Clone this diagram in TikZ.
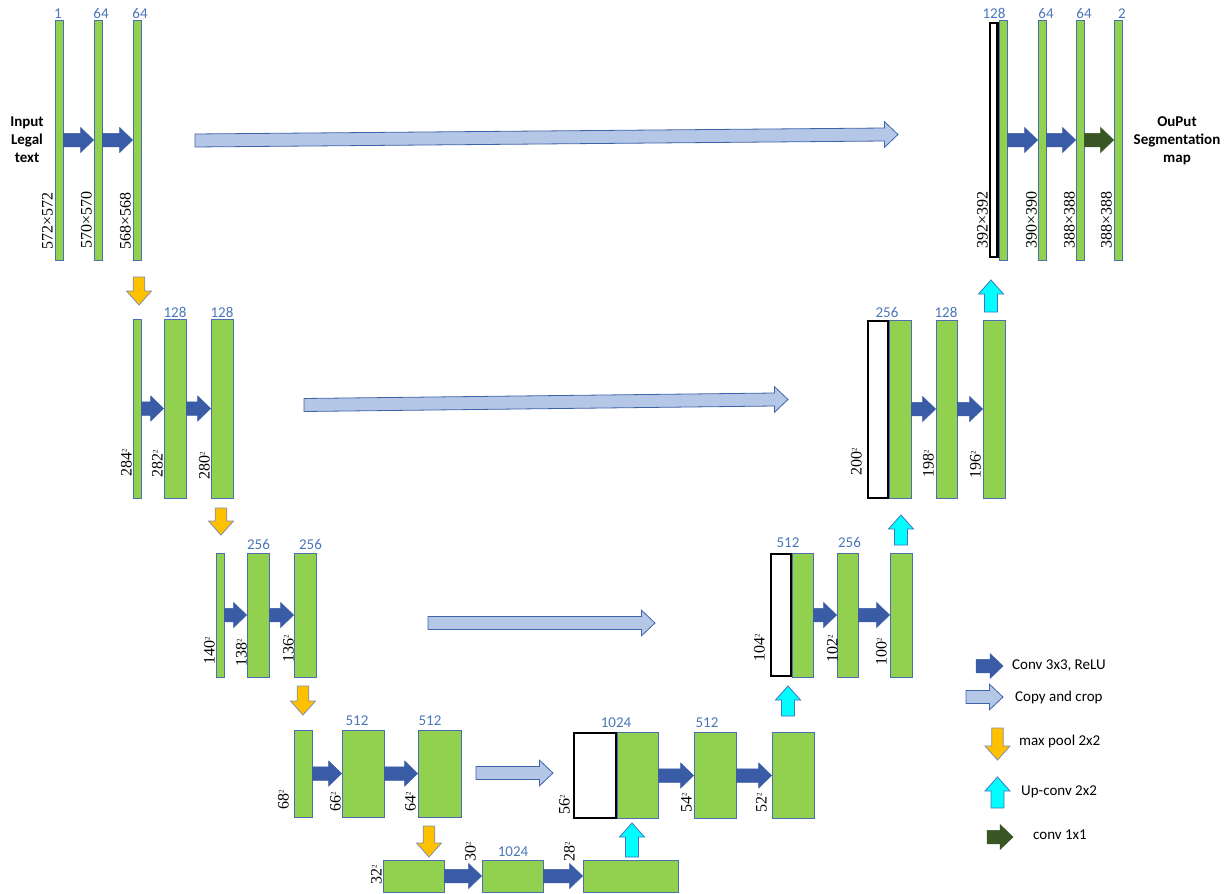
\documentclass[tikz,border=0pt]{standalone}
\usepackage{fontspec}
\setmainfont{Liberation Serif}
\newfontfamily\cali{Carlito}
\usetikzlibrary{calc}
\definecolor{barfill}{HTML}{92D050}
\definecolor{barline}{HTML}{4A6FB0}
\definecolor{convcol}{HTML}{3A5BA6}
\definecolor{copyfill}{HTML}{B4C7E7}
\definecolor{copyline}{HTML}{3F63A8}
\definecolor{poolfill}{HTML}{FFC000}
\definecolor{poolline}{HTML}{7E8FB0}
\definecolor{upfill}{HTML}{00FFFF}
\definecolor{upline}{HTML}{4472C4}
\definecolor{onecol}{HTML}{375623}
\definecolor{numcol}{HTML}{4A76B8}
\newcommand\mysq{\raisebox{0.7ex}{\fontsize{7}{7}\selectfont 2}}
\tikzset{
 harrow/.style n args={3}{to path={let \p1=(\tikztostart),\p2=(\tikztotarget) in
   (\x1,\y1-#1) -- (\x2-#3,\y2-#1) -- (\x2-#3,\y2-#2) -- (\x2,\y2) -- (\x2-#3,\y2+#2) -- (\x2-#3,\y2+#1) -- (\x1,\y1+#1) -- cycle}},
 varrow/.style n args={3}{to path={let \p1=(\tikztostart),\p2=(\tikztotarget),\n1={ifthenelse(\y2>\y1,-1,1)} in
   (\x1-#1,\y1) -- (\x1-#1,\y2+\n1*#3) -- (\x1-#2,\y2+\n1*#3) -- (\x1,\y2) -- (\x1+#2,\y2+\n1*#3) -- (\x1+#1,\y2+\n1*#3) -- (\x1+#1,\y1) -- cycle}},
 bar/.style={draw=barline, fill=barfill, line width=0.7pt, inner sep=0pt},
 crop/.style={draw=black, fill=white, line width=2.4pt, inner sep=0pt},
 num/.style={font=\cali\fontsize{15}{15}\selectfont, text=numcol, anchor=base, inner sep=0pt},
 dim/.style={rotate=90, anchor=south west, inner sep=0pt, font=\fontsize{16}{16}\selectfont},
 conv/.style={draw=convcol, fill=convcol, line width=0.5pt, harrow={6.75pt}{12.5pt}{13pt}},
 convone/.style={draw=onecol, fill=onecol, line width=0.5pt, harrow={6.75pt}{12.5pt}{13pt}},
 copyarr/.style={draw=copyline, fill=copyfill, line width=0.8pt, harrow={6.5pt}{12.8pt}{13.5pt}},
 pool/.style={draw=poolline, fill=poolfill, line width=0.8pt, varrow={5.8pt}{12.5pt}{14pt}},
 upc/.style={draw=upline, fill=upfill, line width=0.8pt, varrow={6.5pt}{12.5pt}{14pt}},
 boldlab/.style={font=\cali\bfseries\fontsize{15}{18}\selectfont, align=center, inner sep=0pt},
 leg/.style={font=\cali\fontsize{15}{15}\selectfont, anchor=west, inner sep=0pt},
}
\begin{document}
\begin{tikzpicture}[x=1pt,y=-1pt]
\useasboundingbox (0,0) rectangle (1229,894);
% ---------- level 1 left
\node[bar, minimum width=8pt, minimum height=240pt] (a1) at (59,140) {};
\node[bar, minimum width=8pt, minimum height=240pt] (a2) at (98,140) {};
\node[bar, minimum width=8pt, minimum height=240pt] (a3) at (137,140) {};
\node[num] (na1) at (58,18) {1};
\node[num] (na2) at (101,18) {64};
\node[num] (na3) at (140,18) {64};
\node[dim] (da1) at (53,250) {572×572};
\node[dim] (da2) at (92,249) {570×570};
\node[dim] (da3) at (131,250) {568×568};
\node[boldlab] (inp) at (27,140) {Input\\Legal\\text};
\draw[conv] (a1.east) to (a2.west);
\draw[conv] (a2.east) to (a3.west);
% ---------- level 2 left
\node[bar, minimum width=8pt, minimum height=179pt] (b1) at (137,408.5) {};
\node[bar, minimum width=22pt, minimum height=179pt] (b2) at (175,408.5) {};
\node[bar, minimum width=22pt, minimum height=179pt] (b3) at (222,408.5) {};
\node[num] (nb2) at (175,317) {128};
\node[num] (nb3) at (222,317) {128};
\node[dim] (db1) at (132,477) {284\mysq};
\node[dim] (db2) at (163,478) {282\mysq};
\node[dim] (db3) at (210,480) {280\mysq};
\draw[conv] (b1.east) to (b2.west);
\draw[conv] (b2.east) to (b3.west);
% ---------- level 3 left
\node[bar, minimum width=7.5pt, minimum height=124pt] (c1) at (220.5,615) {};
\node[bar, minimum width=22pt, minimum height=124pt] (c2) at (258,615) {};
\node[bar, minimum width=22pt, minimum height=124pt] (c3) at (305,615) {};
\node[num] (nc2) at (258.5,549) {256};
\node[num] (nc3) at (310.5,549) {256};
\node[dim] (dc1) at (215,665) {140\mysq};
\node[dim] (dc2) at (247,667) {138\mysq};
\node[dim] (dc3) at (294,663) {136\mysq};
\draw[conv] (c1.east) to (c2.west);
\draw[conv] (c2.east) to (c3.west);
% ---------- level 4 left
\node[bar, minimum width=18pt, minimum height=87pt] (d1) at (303,773.5) {};
\node[bar, minimum width=42pt, minimum height=87pt] (d2) at (363,773.5) {};
\node[bar, minimum width=43pt, minimum height=87pt] (d3) at (439.5,773.5) {};
\node[num] (nd2) at (357,725) {512};
\node[num] (nd3) at (430,725) {512};
\node[dim] (dd1) at (289,810) {68\mysq};
\node[dim] (dd2) at (341,812) {66\mysq};
\node[dim] (dd3) at (416,812) {64\mysq};
\draw[conv] (d1.east) to (d2.west);
\draw[conv] (d2.east) to (d3.west);
% ---------- level 5
\node[bar, minimum width=61pt, minimum height=32pt] (e1) at (413.5,876) {};
\node[bar, minimum width=61pt, minimum height=32pt] (e2) at (512.5,876) {};
\node[bar, minimum width=95pt, minimum height=32pt] (e3) at (630.5,876) {};
\node[num] (ne2) at (513,856) {1024};
\node[dim] (de1) at (382,885) {32\mysq};
\node[dim] (de2) at (476,862) {30\mysq};
\node[dim] (de3) at (575,862) {28\mysq};
\draw[conv] (e1.east) to (e2.west);
\draw[conv] (e2.east) to (e3.west);
% ---------- level 4 right
\node[bar, minimum width=41pt, minimum height=86pt] (f1) at (637.5,775.5) {};
\node[crop, minimum width=41.6pt, minimum height=84.6pt] (f0) at (595,775.5) {};
\node[bar, minimum width=42pt, minimum height=86pt] (f2) at (715,775.5) {};
\node[bar, minimum width=42pt, minimum height=86pt] (f3) at (793,775.5) {};
\node[num] (nf1) at (616,727) {1024};
\node[num] (nf2) at (707,727) {512};
\node[dim] (df0) at (570,815) {56\mysq};
\node[dim] (df2) at (692,813) {54\mysq};
\node[dim] (df3) at (767,813) {52\mysq};
\draw[conv] (f1.east) to (f2.west);
\draw[conv] (f2.east) to (f3.west);
% ---------- level 3 right
\node[bar, minimum width=21pt, minimum height=124pt] (g1) at (802.5,615) {};
\node[crop, minimum width=19.6pt, minimum height=121.6pt] (g0) at (781,615) {};
\node[bar, minimum width=21pt, minimum height=124pt] (g2) at (847.5,615) {};
\node[bar, minimum width=22pt, minimum height=124pt] (g3) at (901,615) {};
\node[num] (ng1) at (788,547) {512};
\node[num] (ng2) at (849.5,547) {256};
\node[dim] (dg0) at (765,662) {104\mysq};
\node[dim] (dg2) at (838,663) {102\mysq};
\node[dim] (dg3) at (887,666) {100\mysq};
\draw[conv] (g1.east) to (g2.west);
\draw[conv] (g2.east) to (g3.west);
% ---------- level 2 right
\node[bar, minimum width=22pt, minimum height=178pt] (h1) at (900,409) {};
\node[crop, minimum width=19.6pt, minimum height=176.6pt] (h0) at (878,409.5) {};
\node[bar, minimum width=21pt, minimum height=178pt] (h2) at (946.5,409) {};
\node[bar, minimum width=22pt, minimum height=178pt] (h3) at (994,409) {};
\node[num] (nh1) at (887,317) {256};
\node[num] (nh2) at (946,317) {128};
\node[dim] (dh0) at (862,476) {200\mysq};
\node[dim] (dh2) at (934,478) {198\mysq};
\node[dim] (dh3) at (981,479) {196\mysq};
\draw[conv] (h1.east) to (h2.west);
\draw[conv] (h2.east) to (h3.west);
% ---------- level 1 right
\node[bar, minimum width=8pt, minimum height=240pt] (i1) at (1003,140) {};
\node[crop, minimum width=7.6pt, minimum height=233.6pt] (i0) at (993.5,140) {};
\node[bar, minimum width=8pt, minimum height=240pt] (i2) at (1042,140) {};
\node[bar, minimum width=8pt, minimum height=240pt] (i3) at (1080,140) {};
\node[bar, minimum width=8pt, minimum height=240pt] (i4) at (1118,140) {};
\node[num] (ni1) at (994,18) {128};
\node[num] (ni2) at (1046,18) {64};
\node[num] (ni3) at (1084,18) {64};
\node[num] (ni4) at (1122,18) {2};
\node[dim] (di0) at (988,249) {392×392};
\node[dim] (di2) at (1037,249) {390×390};
\node[dim] (di3) at (1075,249) {388×388};
\node[dim] (di4) at (1112,249) {388×388};
\node[boldlab] (outp) at (1177,141) {OuPut\\Segmentation\\map};
\draw[conv] (i1.east) to (i2.west);
\draw[conv] (i2.east) to (i3.west);
\draw[convone] (i3.east) to (i4.west);
% ---------- copy and crop connectors
\coordinate (k1s) at (195,140.5); \coordinate (k1e) at (898,134.5);
\coordinate (k2s) at (304,405);   \coordinate (k2e) at (788,399.5);
\coordinate (k3s) at (428,623);   \coordinate (k3e) at (655,623);
\coordinate (k4s) at (476,773);   \coordinate (k4e) at (553,773);
\draw[copyarr] (k1s) to (k1e);
\draw[copyarr] (k2s) to (k2e);
\draw[copyarr] (k3s) to (k3e);
\draw[copyarr] (k4s) to (k4e);
% ---------- max pool connectors
\coordinate (p1s) at (139,277); \coordinate (p1e) at (139,305);
\coordinate (p2s) at (221,508); \coordinate (p2e) at (221,535);
\coordinate (p3s) at (303,686); \coordinate (p3e) at (303,715);
\coordinate (p4s) at (429,826); \coordinate (p4e) at (429,857);
\draw[pool] (p1s) to (p1e);
\draw[pool] (p2s) to (p2e);
\draw[pool] (p3s) to (p3e);
\draw[pool] (p4s) to (p4e);
% ---------- up-conv connectors
\coordinate (u1s) at (632,857); \coordinate (u1e) at (632,823);
\coordinate (u2s) at (788,716); \coordinate (u2e) at (788,686);
\coordinate (u3s) at (901,545); \coordinate (u3e) at (901,515);
\coordinate (u4s) at (991,312); \coordinate (u4e) at (991,280);
\draw[upc] (u1s) to (u1e);
\draw[upc] (u2s) to (u2e);
\draw[upc] (u3s) to (u3e);
\draw[upc] (u4s) to (u4e);
% ---------- legend
\coordinate (l1s) at (976,666);  \coordinate (l1e) at (1003,666);
\coordinate (l2s) at (966,697);  \coordinate (l2e) at (1003,697);
\coordinate (l3s) at (997.5,728); \coordinate (l3e) at (997.5,760);
\coordinate (l4s) at (997.5,808); \coordinate (l4e) at (997.5,777);
\coordinate (l5s) at (987,837);  \coordinate (l5e) at (1013,837);
\draw[conv] (l1s) to (l1e);
\draw[copyarr] (l2s) to (l2e);
\draw[pool] (l3s) to (l3e);
\draw[upc] (l4s) to (l4e);
\draw[convone] (l5s) to (l5e);
\node[leg] (t1) at (1012,666) {Conv 3x3, ReLU};
\node[leg] (t2) at (1015,697) {Copy and crop};
\node[leg] (t3) at (1019,741) {max pool 2x2};
\node[leg] (t4) at (1021,792) {Up-conv 2x2};
\node[leg] (t5) at (1033,835) {conv 1x1};
\end{tikzpicture}
\end{document}
